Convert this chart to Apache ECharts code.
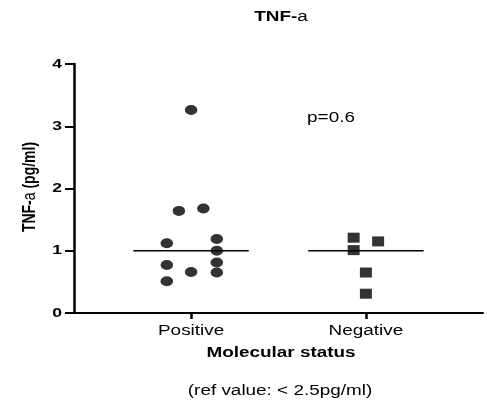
<!DOCTYPE html>
<html>
<head>
<meta charset="utf-8">
<script src="https://cdn.jsdelivr.net/npm/echarts@6/dist/echarts.min.js"></script>
<style>
  html, body { margin: 0; padding: 0; background: #fff; }
  #chart { width: 487px; height: 404px; }
</style>
</head>
<body>
<div id="chart"></div>
<script>
// Group names and their positions on the x value axis
const categories = ['Positive', 'Negative'];
const categoryPos = [1, 2];

// Positive group: x position (with scatter spread) and TNF-a value
const positiveX = [1.0, 0.93, 1.07, 0.861, 1.147, 1.147, 0.861, 1.147, 1.0, 1.147, 0.861];
const positiveY = [3.26, 1.64, 1.68, 1.12, 1.19, 1.0, 0.77, 0.81, 0.66, 0.65, 0.51];

// Negative group
const negativeX = [1.93, 2.07, 1.93, 2.0, 2.0];
const negativeY = [1.21, 1.15, 1.01, 0.65, 0.31];

// Group medians
const medians = [1.0, 1.0];
const medianHalfWidth = 0.33;

const yTicks = [0, 1, 2, 3, 4];

const font = 'Liberation Sans, Arial, sans-serif';
// The figure is drawn with a wide aspect: text is widened horizontally.
const WIDE = 1.35;

function pairs(xs, ys) { return xs.map((x, i) => [x, ys[i]]); }

const medianSeries = categoryPos.map((c, i) => ({
  type: 'line',
  data: [[c - medianHalfWidth, medians[i]], [c + medianHalfWidth, medians[i]]],
  symbol: 'none',
  lineStyle: { color: '#000', width: 1.5 },
  silent: true,
  z: 1
}));

const chart = echarts.init(document.getElementById('chart'));
chart.setOption({
  animation: false,
  backgroundColor: '#fff',
  grid: { left: 74, right: 4, top: 64, bottom: 91 },
  xAxis: {
    type: 'value',
    min: 0.33, max: 2.67,
    interval: 1,
    splitLine: { show: false },
    axisLine: { show: true, onZero: false, lineStyle: { color: '#000', width: 2 } },
    axisTick: {
      show: true, length: 6,
      lineStyle: { color: '#000', width: 2.5 },
      customValues: categoryPos
    },
    axisLabel: { show: false }
  },
  yAxis: {
    type: 'value',
    min: 0, max: 4, interval: 1,
    splitLine: { show: false },
    axisLine: { show: true, lineStyle: { color: '#000', width: 2.5 } },
    axisTick: { show: true, length: 9, lineStyle: { color: '#000', width: 2 } },
    axisLabel: { show: false }
  },
  series: [
    ...medianSeries,
    {
      type: 'scatter',
      data: pairs(positiveX, positiveY),
      symbol: 'circle',
      symbolSize: [12.5, 10],
      itemStyle: { color: '#000' },
      z: 3
    },
    {
      type: 'scatter',
      data: pairs(negativeX, negativeY),
      symbol: 'rect',
      symbolSize: [12, 10],
      itemStyle: { color: '#000' },
      z: 3
    }
  ]
});

// Text layer: widened labels placed through the axes' own scales
function txt(x, y, text, opt) {
  return Object.assign({
    type: 'text', x, y, scaleX: WIDE,
    style: Object.assign({
      text, fontFamily: font, fontSize: 14, fill: '#000',
      align: 'center', verticalAlign: 'middle'
    }, opt || {})
  });
}

const axisY0 = chart.convertToPixel({ gridIndex: 0 }, [0.33, 0])[1];
const axisX0 = chart.convertToPixel({ gridIndex: 0 }, [0.33, 0])[0];

const graphics = [];
categories.forEach((name, i) => {
  const px = chart.convertToPixel({ gridIndex: 0 }, [categoryPos[i], 0]);
  graphics.push(txt(px[0], axisY0 + 18, name));
});
yTicks.forEach(v => {
  const py = chart.convertToPixel({ gridIndex: 0 }, [0.33, v])[1];
  graphics.push(txt(axisX0 - 12, py, String(v), { align: 'right', fontWeight: 'bold', fontSize: 13 }));
});
graphics.push(txt(281, 353, 'Molecular status', { fontWeight: 'bold' }));
graphics.push(txt(280, 391, '(ref value: < 2.5pg/ml)'));
graphics.push(txt(331, 118, 'p=0.6'));
graphics.push(txt(281, 17, '{b|TNF-}{n|a}', {
  rich: {
    b: { fontFamily: font, fontWeight: 'bold', fontSize: 14, fill: '#000' },
    n: { fontFamily: font, fontWeight: 'normal', fontSize: 14, fill: '#000' }
  }
}));
// y-axis name, rotated; its glyph height runs horizontally so the widening goes on scaleY
graphics.push({
  type: 'text', x: 30, y: 187, rotation: Math.PI / 2, scaleY: WIDE,
  style: {
    text: '{b|TNF-}{n|a}{b| (pg/ml)}',
    align: 'center', verticalAlign: 'middle',
    rich: {
      b: { fontFamily: font, fontWeight: 'bold', fontSize: 14, fill: '#000' },
      n: { fontFamily: font, fontWeight: 'normal', fontSize: 14, fill: '#000' }
    }
  }
});

chart.setOption({ graphic: graphics });
</script>
</body>
</html>
